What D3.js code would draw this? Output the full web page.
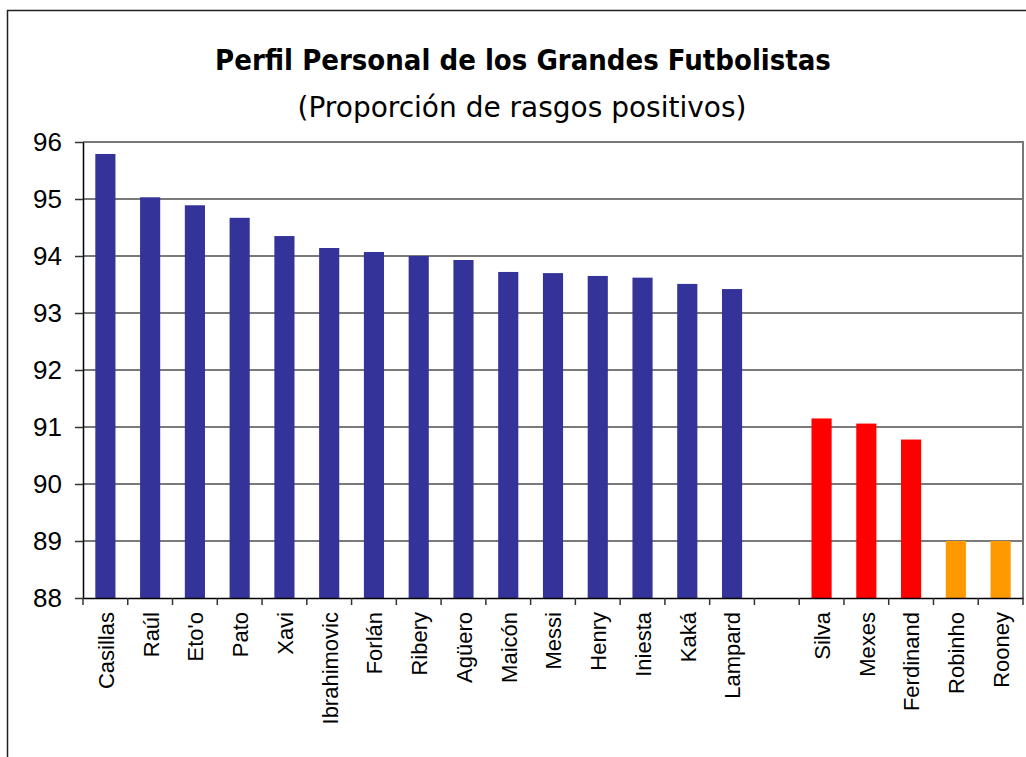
<!DOCTYPE html>
<html>
<head>
<meta charset="utf-8">
<script src="https://cdn.jsdelivr.net/npm/d3@7"></script>
<style>
  body { margin: 0; background: #fff; }
  svg { display: block; }
  .title { font-family: "DejaVu Sans Condensed", "DejaVu Sans", sans-serif; }
  .subtitle { font-family: "DejaVu Sans", sans-serif; }
  .axis text { font-family: "Liberation Sans", Arial, sans-serif; fill: #000; }
</style>
</head>
<body>
<svg width="1026" height="757"></svg>
<script>
// data
const players = ["Casillas", "Raúl", "Eto'o", "Pato", "Xavi", "Ibrahimovic", "Forlán", "Ribery",
  "Agüero", "Maicón", "Messi", "Henry", "Iniesta", "Kaká", "Lampard", "",
  "Silva", "Mexes", "Ferdinand", "Robinho", "Rooney"];
const values = [95.79, 95.03, 94.89, 94.67, 94.35, 94.14, 94.07, 94.0,
  93.93, 93.72, 93.70, 93.65, 93.62, 93.51, 93.42, null,
  91.15, 91.06, 90.78, 89.0, 89.0];
const groups = ["top", "top", "top", "top", "top", "top", "top", "top",
  "top", "top", "top", "top", "top", "top", "top", "none",
  "mid", "mid", "mid", "low", "low"];
const yTicks = [88, 89, 90, 91, 92, 93, 94, 95, 96];
const colors = {top: "#333399", mid: "#ff0000", low: "#ff9900"};

// dimensions
const margin = {top: 142, right: 3, bottom: 159, left: 83};
const width = 1026 - margin.left - margin.right;
const height = 757 - margin.top - margin.bottom;

const root = d3.select("svg");

// outer frame (runs off the right and bottom edge)
root.append("rect")
    .attr("x", 7.5)
    .attr("y", 10.5)
    .attr("width", 1100)
    .attr("height", 900)
    .attr("fill", "none")
    .attr("stroke", "#222")
    .attr("stroke-width", 1.5);

// titles
root.append("text")
    .attr("class", "title")
    .attr("x", 523)
    .attr("y", 70)
    .attr("text-anchor", "middle")
    .style("font-size", "29px")
    .style("font-weight", "bold")
    .text("Perfil Personal de los Grandes Futbolistas");

root.append("text")
    .attr("class", "subtitle")
    .attr("x", 522)
    .attr("y", 117)
    .attr("text-anchor", "middle")
    .style("font-size", "28px")
    .text("(Proporción de rasgos positivos)");

const svg = root.append("g")
    .attr("transform", `translate(${margin.left},${margin.top})`);

const data = players.map((p, i) => ({key: p || " ", name: p, value: values[i], group: groups[i]}));

const x = d3.scaleBand()
    .domain(data.map(d => d.key))
    .range([0, width])
    .paddingInner(0.55)
    .paddingOuter(0.275);

const y = d3.scaleLinear()
    .domain([88, 96])
    .range([height, 0]);

// plot border (top / right)
svg.append("path")
    .attr("d", `M0,0H${width}V${height}`)
    .attr("fill", "none")
    .attr("stroke", "#777")
    .attr("stroke-width", 2);

// gridlines
svg.append("g")
    .selectAll("line")
    .data(yTicks.slice(1, -1))
    .enter().append("line")
    .attr("x1", 0)
    .attr("x2", width)
    .attr("y1", d => y(d))
    .attr("y2", d => y(d))
    .attr("stroke", "#7a7a7a")
    .attr("stroke-width", 2);

// bars
svg.selectAll(".bar")
    .data(data.filter(d => d.value != null))
    .enter().append("rect")
    .attr("class", "bar")
    .attr("x", d => x(d.key))
    .attr("y", d => y(d.value))
    .attr("width", x.bandwidth())
    .attr("height", d => height - y(d.value))
    .attr("fill", d => colors[d.group]);

// y-axis
const yAxis = svg.append("g")
    .attr("class", "axis")
    .call(d3.axisLeft(y).tickValues(yTicks).tickSize(8).tickSizeOuter(0).tickPadding(13));
yAxis.selectAll("text").style("font-size", "26px");
yAxis.selectAll("line").attr("stroke", "#333").attr("stroke-width", 1.5);
yAxis.select(".domain").attr("stroke", "#000").attr("stroke-width", 1.5);

// x-axis, labels under the bars
const xAxis = svg.append("g")
    .attr("class", "axis")
    .attr("transform", `translate(0,${height})`)
    .call(d3.axisBottom(x).tickSize(0).tickSizeOuter(0).tickFormat(k => k.trim()));
xAxis.select(".domain").attr("stroke", "#000").attr("stroke-width", 1.5);
xAxis.selectAll("text")
    .style("font-size", "22px")
    .attr("transform", "rotate(-90)")
    .attr("x", -14)
    .attr("y", 0)
    .attr("dy", "0.38em")
    .style("text-anchor", "end");

// tick marks between categories
const step = x.step();
svg.append("g")
    .attr("transform", `translate(0,${height})`)
    .selectAll("line")
    .data(d3.range(players.length + 1))
    .enter().append("line")
    .attr("x1", i => i * step)
    .attr("x2", i => i * step)
    .attr("y1", 0)
    .attr("y2", 7)
    .attr("stroke", "#333")
    .attr("stroke-width", 1.5);
</script>
</body>
</html>
